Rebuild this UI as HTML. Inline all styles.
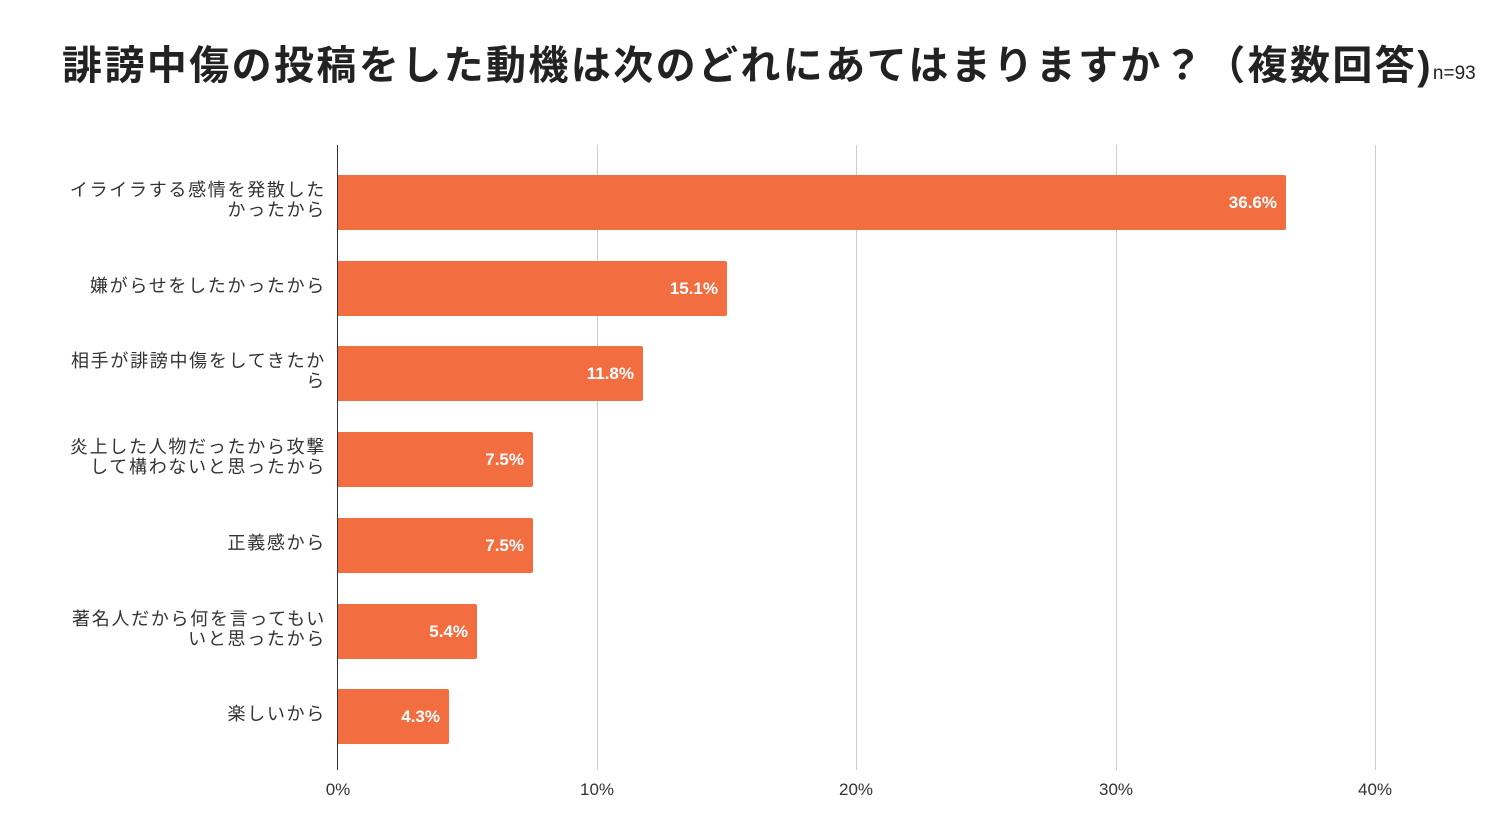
<!DOCTYPE html>
<html><head><meta charset="utf-8"><style>
body{margin:0;width:1500px;height:828px;background:#fff;overflow:hidden;font-family:"Liberation Sans","Noto Sans CJK JP",sans-serif;position:relative}
.t{position:absolute;left:62px;top:33px;font-size:40px;font-weight:bold;color:#222;white-space:nowrap;letter-spacing:2.4px}
.t small{font-size:19px;font-weight:normal;letter-spacing:0}
.g{position:absolute;top:145px;height:625px;width:1px;background:#ccc}
.ax{position:absolute;left:337px;top:145px;height:625px;width:1px;background:#333}
.bar{position:absolute;left:338px;height:55px;background:#f26d40;border-radius:0 2px 2px 0}
.bar span{position:absolute;right:9px;top:50%;transform:translateY(-50%);color:#fff;font-weight:bold;font-size:17px}
.lb{position:absolute;right:1174px;text-align:right;font-size:18px;line-height:20px;color:#333;white-space:nowrap;transform:translateY(-50%);letter-spacing:1.7px}
.tk{position:absolute;top:780px;font-size:17px;color:#333;transform:translateX(-50%)}
</style></head><body>
<div class="t">誹謗中傷の投稿をした動機は次のどれにあてはまりますか？（複数回答)<small>n=93</small></div>
<div class="g" style="left:597px"></div><div class="g" style="left:856px"></div><div class="g" style="left:1116px"></div><div class="g" style="left:1375px"></div>
<div class="ax"></div>
<div class="bar" style="top:175px;width:948px"><span>36.6%</span></div>
<div class="bar" style="top:261px;width:389px"><span>15.1%</span></div>
<div class="bar" style="top:346px;width:305px"><span>11.8%</span></div>
<div class="bar" style="top:432px;width:195px"><span>7.5%</span></div>
<div class="bar" style="top:518px;width:195px"><span>7.5%</span></div>
<div class="bar" style="top:604px;width:139px"><span>5.4%</span></div>
<div class="bar" style="top:689px;width:111px"><span>4.3%</span></div>
<div class="lb" style="top:200px">イライラする感情を発散した<br>かったから</div>
<div class="lb" style="top:286px">嫌がらせをしたかったから</div>
<div class="lb" style="top:371px">相手が誹謗中傷をしてきたか<br>ら</div>
<div class="lb" style="top:457px">炎上した人物だったから攻撃<br>して構わないと思ったから</div>
<div class="lb" style="top:543px">正義感から</div>
<div class="lb" style="top:629px">著名人だから何を言ってもい<br>いと思ったから</div>
<div class="lb" style="top:714px">楽しいから</div>
<div class="tk" style="left:338px">0%</div><div class="tk" style="left:597px">10%</div><div class="tk" style="left:856px">20%</div><div class="tk" style="left:1116px">30%</div><div class="tk" style="left:1375px">40%</div>
</body></html>
